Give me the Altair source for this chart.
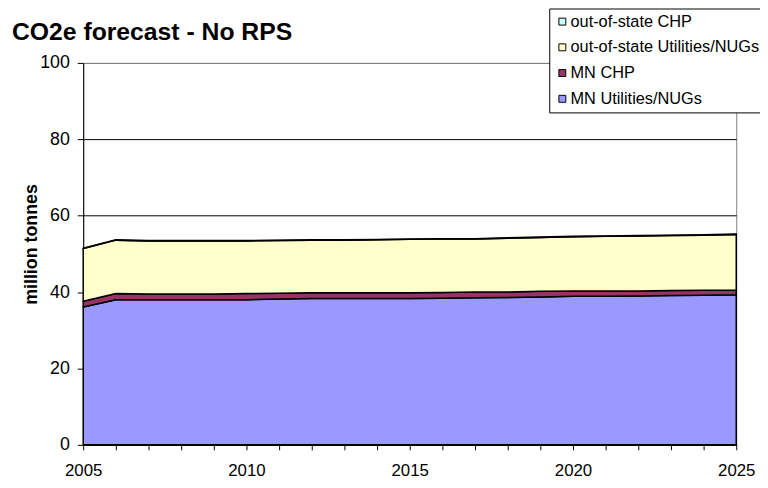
import altair as alt
import pandas as pd

years = list(range(2005, 2026))
mn_util = [36.1, 38.0, 38.0, 38.0, 38.0, 38.0, 38.2, 38.3, 38.3, 38.3, 38.3,
           38.4, 38.5, 38.6, 38.7, 38.9, 38.9, 39.0, 39.1, 39.2, 39.3]
mn_chp = [1.5, 1.6, 1.5, 1.5, 1.5, 1.6, 1.5, 1.5, 1.5, 1.5, 1.5,
          1.5, 1.5, 1.4, 1.5, 1.4, 1.4, 1.3, 1.3, 1.3, 1.2]
oos_util = [13.8, 14.0, 13.9, 13.9, 13.9, 13.8, 13.8, 13.8, 13.8, 13.9, 14.0,
            14.0, 13.9, 14.1, 14.1, 14.2, 14.3, 14.4, 14.4, 14.4, 14.6]
oos_chp = [0.1] * 21

series_names = ["MN Utilities/NUGs", "MN CHP", "out-of-state Utilities/NUGs", "out-of-state CHP"]
series_values = [mn_util, mn_chp, oos_util, oos_chp]
legend_order = ["out-of-state CHP", "out-of-state Utilities/NUGs", "MN CHP", "MN Utilities/NUGs"]
legend_colors = ["#CCFFFF", "#FFFFCC", "#993366", "#9999FF"]
title_text = ["CO2e forecast - No RPS"]

rows = []
for rank, (name, vals) in enumerate(zip(series_names, series_values)):
    for yr, v in zip(years, vals):
        rows.append({"year": yr, "value": v, "series": name, "rank": rank})
df = pd.DataFrame(rows)

FONT = "Liberation Sans"

areas = alt.Chart(df).mark_area(
    stroke="black", strokeWidth=1.5, interpolate="linear"
).encode(
    x=alt.X("year:Q",
            scale=alt.Scale(domain=[2005, 2025], nice=False, zero=False),
            axis=alt.Axis(values=years, format="d", title=None,
                          labelExpr="datum.value % 5 === 0 ? datum.label : ''",
                          grid=False, tickSize=5, tickColor="black",
                          domainColor="black", labelFontSize=17, labelFont=FONT,
                          labelColor="black", labelPadding=26,
                          labelBaseline="alphabetic", labelFlush=False,
                          labelOverlap=False)),
    y=alt.Y("value:Q", stack="zero",
            scale=alt.Scale(domain=[0, 100], nice=False),
            axis=alt.Axis(values=[0, 20, 40, 60, 80, 100], title="million tonnes",
                          grid=True,
                          gridColor=alt.condition("datum.value == 100", alt.value("#808080"), alt.value("black")),
                          gridWidth=1, tickSize=6, tickColor="black",
                          domainColor="black", labelFontSize=18, labelFont=FONT,
                          labelColor="black", labelPadding=8,
                          titleFontSize=18, titleFont=FONT, titleFontWeight="bold",
                          titleColor="black", titleX=-47, titleY=183,
                          titleBaseline="alphabetic", titleAngle=270,
                          titleAlign="center")),
    color=alt.Color("series:N",
                    scale=alt.Scale(domain=legend_order, range=legend_colors),
                    sort=legend_order,
                    legend=alt.Legend(title=None, orient="none", legendX=471, legendY=-55,
                                      fillColor="white", strokeColor="black",
                                      padding=5, rowPadding=9,
                                      symbolType="square", symbolSize=49,
                                      symbolStrokeColor="black", symbolStrokeWidth=1,
                                      labelFontSize=16.5, labelFont=FONT,
                                      labelColor="black", labelOffset=0,
                                      labelLimit=400)),
    order=alt.Order("rank:Q", sort="ascending"),
)

title = alt.Chart(pd.DataFrame({"t": title_text})).mark_text(
    align="left", baseline="alphabetic", fontSize=25, font=FONT,
    fontWeight="bold", color="black"
).encode(text="t:N", x=alt.value(-72), y=alt.value(-23))

chart = alt.layer(areas, title).properties(
    width=660, height=386,
    autosize=alt.AutoSizeParams(type="none"),
    padding={"left": 76, "top": 53, "right": 24, "bottom": 33},
).configure(
    background="white",
).configure_view(
    stroke="#808080", strokeWidth=1,
)

chart.save("out.html", embed_options={"renderer": "svg", "actions": False})
